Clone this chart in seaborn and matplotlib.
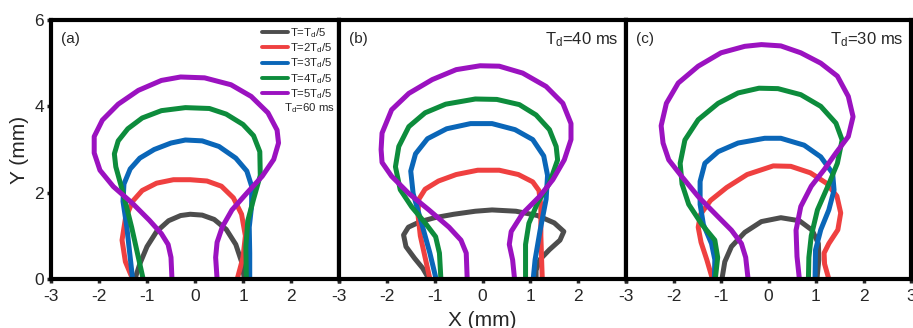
import numpy as np
import pandas as pd
import matplotlib
matplotlib.use("Agg")
import matplotlib.pyplot as plt
import seaborn as sns
from matplotlib.lines import Line2D

# Bubble contours (X, Y in mm) at five instants T = k*Td/5, for three Td values
stages = [r"T=T$_\mathrm{d}$/5", r"T=2T$_\mathrm{d}$/5", r"T=3T$_\mathrm{d}$/5",
          r"T=4T$_\mathrm{d}$/5", r"T=5T$_\mathrm{d}$/5"]
colors = ["#4d4d4d", "#ef4040", "#0a66b8", "#0d8c3c", "#9b12c0"]
panel_tags = ["(a)", "(b)", "(c)"]
td_labels = [r"T$_\mathrm{d}$=60 ms", r"T$_\mathrm{d}$=40 ms", r"T$_\mathrm{d}$=30 ms"]
x_ticks = [-3, -2, -1, 0, 1, 2, 3]
y_ticks = [0, 2, 4, 6]

# Td = 60 ms
a1 = [(-1.25, 0), (-1.15, 0.35), (-1.0, 0.75), (-0.8, 1.1), (-0.55, 1.35), (-0.3, 1.47),
      (-0.1, 1.5), (0.15, 1.48), (0.4, 1.38), (0.65, 1.15), (0.85, 0.8), (0.97, 0.4), (1.03, 0)]
a2 = [(-1.3, 0), (-1.45, 0.4), (-1.52, 0.9), (-1.45, 1.4), (-1.3, 1.8), (-1.1, 2.05),
      (-0.8, 2.22), (-0.45, 2.3), (-0.1, 2.3), (0.25, 2.27), (0.55, 2.15), (0.8, 1.88),
      (0.97, 1.5), (1.05, 1.0), (1.0, 0.5), (0.88, 0)]
a3 = [(-1.3, 0), (-1.36, 0.6), (-1.42, 1.2), (-1.5, 1.8), (-1.48, 2.2), (-1.35, 2.55),
      (-1.15, 2.8), (-0.85, 3.0), (-0.5, 3.15), (-0.2, 3.22), (0.15, 3.2), (0.5, 3.07),
      (0.85, 2.8), (1.08, 2.5), (1.18, 2.15), (1.18, 1.7), (1.13, 1.2), (1.14, 0.6), (1.14, 0)]
a4 = [(-1.08, 0), (-1.2, 0.6), (-1.32, 1.2), (-1.5, 2.0), (-1.65, 2.6), (-1.68, 2.9),
      (-1.6, 3.2), (-1.4, 3.48), (-1.1, 3.73), (-0.7, 3.9), (-0.2, 3.97), (0.3, 3.95),
      (0.65, 3.82), (1.0, 3.58), (1.22, 3.32), (1.35, 2.95), (1.36, 2.4), (1.22, 1.85),
      (1.1, 1.35), (1.06, 0.75), (1.07, 0)]
a5 = [(-0.48, 0), (-0.5, 0.5), (-0.56, 0.8), (-0.7, 1.05), (-0.95, 1.36), (-1.3, 1.75),
      (-1.7, 2.14), (-1.98, 2.52), (-2.1, 2.92), (-2.1, 3.3), (-1.93, 3.68), (-1.6, 4.05),
      (-1.18, 4.37), (-0.7, 4.6), (-0.3, 4.68), (0.2, 4.66), (0.75, 4.5), (1.17, 4.23),
      (1.52, 3.85), (1.71, 3.45), (1.74, 3.15), (1.64, 2.77), (1.4, 2.38), (1.08, 1.99),
      (0.77, 1.6), (0.57, 1.21), (0.46, 0.85), (0.43, 0.5), (0.46, 0)]

# Td = 40 ms
b1 = [(-1.12, 0), (-1.25, 0.25), (-1.42, 0.48), (-1.6, 0.75), (-1.65, 1.02), (-1.55, 1.2),
      (-1.3, 1.33), (-1.0, 1.42), (-0.6, 1.5), (-0.15, 1.57), (0.2, 1.6), (0.7, 1.57),
      (1.15, 1.47), (1.5, 1.3), (1.7, 1.1), (1.62, 0.9), (1.4, 0.68), (1.2, 0.45),
      (1.12, 0.2), (1.12, 0)]
b2 = [(-1.1, 0), (-1.2, 0.5), (-1.3, 1.0), (-1.35, 1.5), (-1.33, 1.85), (-1.2, 2.08),
      (-0.92, 2.27), (-0.55, 2.42), (-0.1, 2.52), (0.35, 2.52), (0.75, 2.42), (1.05, 2.25),
      (1.18, 2.05), (1.22, 1.7), (1.22, 1.0), (1.24, 0.3), (1.25, 0)]
b3 = [(-0.97, 0), (-1.1, 0.6), (-1.3, 1.4), (-1.45, 1.98), (-1.5, 2.5), (-1.4, 2.9),
      (-1.15, 3.25), (-0.75, 3.48), (-0.25, 3.6), (0.2, 3.6), (0.68, 3.46), (1.05, 3.23),
      (1.28, 2.85), (1.36, 2.4), (1.33, 1.85), (1.2, 1.1), (1.1, 0.45), (1.06, 0)]
b4 = [(-0.87, 0), (-0.9, 0.6), (-0.98, 0.98), (-1.2, 1.3), (-1.48, 1.67), (-1.72, 2.07),
      (-1.82, 2.6), (-1.75, 3.07), (-1.54, 3.53), (-1.2, 3.85), (-0.77, 4.05), (-0.15, 4.17),
      (0.3, 4.16), (0.77, 4.04), (1.12, 3.8), (1.4, 3.46), (1.54, 3.07), (1.57, 2.76),
      (1.4, 2.22), (1.15, 1.76), (0.97, 1.29), (0.9, 0.8), (0.9, 0)]
b5 = [(-0.32, 0), (-0.34, 0.6), (-0.45, 0.9), (-0.7, 1.2), (-1.12, 1.6), (-1.54, 1.98),
      (-1.9, 2.38), (-2.1, 2.7), (-2.12, 3.0), (-2.1, 3.38), (-1.9, 3.92), (-1.54, 4.3),
      (-1.05, 4.62), (-0.55, 4.85), (-0.05, 4.94), (0.35, 4.93), (0.84, 4.77), (1.33, 4.46),
      (1.68, 4.07), (1.85, 3.6), (1.85, 3.23), (1.71, 2.76), (1.47, 2.3), (1.19, 1.91),
      (0.84, 1.52), (0.6, 1.1), (0.56, 0.8), (0.63, 0.44), (0.67, 0)]

# Td = 30 ms
c1 = [(-0.98, 0), (-0.92, 0.4), (-0.78, 0.75), (-0.5, 1.08), (-0.15, 1.33), (0.26, 1.42),
      (0.65, 1.35), (0.92, 1.13), (1.05, 0.82), (1.06, 0.45), (1.02, 0)]
c2 = [(-1.18, 0), (-1.3, 0.45), (-1.42, 0.85), (-1.48, 1.2), (-1.43, 1.5), (-1.22, 1.82),
      (-0.88, 2.12), (-0.45, 2.42), (0.1, 2.62), (0.47, 2.61), (0.88, 2.46), (1.22, 2.22),
      (1.44, 1.92), (1.52, 1.53), (1.46, 1.14), (1.27, 0.82), (1.17, 0.6), (1.18, 0.35),
      (1.27, 0)]
c3 = [(-1.14, 0), (-1.13, 0.45), (-1.2, 0.82), (-1.37, 1.26), (-1.44, 1.73), (-1.44, 2.26),
      (-1.34, 2.68), (-1.06, 2.95), (-0.64, 3.15), (-0.08, 3.26), (0.26, 3.26), (0.75, 3.1),
      (1.1, 2.83), (1.35, 2.45), (1.38, 2.06), (1.27, 1.6), (1.1, 1.14), (0.99, 0.67),
      (0.98, 0)]
c4 = [(-1.12, 0), (-1.07, 0.5), (-1.13, 0.9), (-1.4, 1.26), (-1.68, 1.73), (-1.82, 2.2),
      (-1.86, 2.68), (-1.76, 3.22), (-1.48, 3.69), (-1.06, 4.07), (-0.64, 4.31), (-0.2, 4.42),
      (0.2, 4.41), (0.68, 4.27), (1.1, 4.0), (1.42, 3.61), (1.55, 3.22), (1.45, 2.68),
      (1.27, 2.2), (1.03, 1.6), (0.9, 1.0), (0.85, 0.5), (0.84, 0)]
c5 = [(-0.43, 0), (-0.48, 0.5), (-0.57, 0.82), (-0.78, 1.13), (-1.06, 1.44), (-1.48, 1.91),
      (-1.83, 2.38), (-2.1, 2.76), (-2.22, 3.15), (-2.26, 3.55), (-2.15, 4.07), (-1.9, 4.54),
      (-1.48, 4.93), (-1.0, 5.24), (-0.5, 5.39), (-0.15, 5.43), (0.26, 5.4), (0.68, 5.24),
      (1.1, 5.0), (1.45, 4.7), (1.68, 4.23), (1.78, 3.76), (1.68, 3.3), (1.42, 2.92),
      (1.17, 2.53), (0.9, 2.15), (0.68, 1.68), (0.58, 1.13), (0.6, 0.52), (0.65, 0)]

panels = [[a1, a2, a3, a4, a5], [b1, b2, b3, b4, b5], [c1, c2, c3, c4, c5]]

rows = []
for p, curves in enumerate(panels):
    for stage, pts in zip(stages, curves):
        for i, (x, y) in enumerate(pts):
            rows.append({"panel": p, "stage": stage, "i": i, "x": x, "y": y})
df = pd.DataFrame(rows)

sns.set_style("ticks")
plt.rcParams["font.family"] = ["Liberation Sans", "DejaVu Sans"]
plt.rcParams["mathtext.fontset"] = "custom"
plt.rcParams["mathtext.rm"] = "Liberation Sans"
plt.rcParams["mathtext.it"] = "Liberation Sans"

fig = plt.figure(figsize=(9.13, 3.28), dpi=100)
bottom, height = 49 / 328, 259 / 328
lefts = [51, 339, 626]
widths = [288, 287, 285]
palette = dict(zip(stages, colors))

axes = []
for p in range(3):
    ax = fig.add_axes([lefts[p] / 913, bottom, widths[p] / 913, height])
    axes.append(ax)
    sub = df[df["panel"] == p]
    sns.lineplot(data=sub, x="x", y="y", hue="stage", hue_order=stages, palette=palette,
                 sort=False, estimator=None, linewidth=3.6, legend=False, ax=ax,
                 solid_joinstyle="round", solid_capstyle="butt")
    ax.set_xlim(-3, 3)
    ax.set_ylim(0, 6)
    ax.set_xticks(x_ticks)
    labels = [str(t) for t in x_ticks]
    if p < 2:
        labels[-1] = ""
    ax.set_xticklabels(labels)
    ax.set_yticks(y_ticks)
    if p == 0:
        ax.set_yticklabels([str(t) for t in y_ticks])
        ax.tick_params(axis="y", length=3, width=2.5, labelsize=12.5, pad=2)
    else:
        ax.tick_params(axis="y", left=False, labelleft=False)
    ax.tick_params(axis="x", length=3, width=2.5, labelsize=12.5, pad=4)
    for s in ax.spines.values():
        s.set_linewidth(3)
        s.set_color("black")
    ax.set_xlabel("")
    ax.set_ylabel("")
    ax.text(0.035, 0.925, panel_tags[p], transform=ax.transAxes, fontsize=11,
            ha="left", va="center")
    if p > 0:
        ax.text(0.975, 0.925, td_labels[p], transform=ax.transAxes, fontsize=12,
                ha="right", va="center")

axes[0].set_ylabel("Y (mm)", fontsize=15, labelpad=4)
axes[1].set_xlabel("X (mm)", fontsize=15, labelpad=5)

handles = [Line2D([], [], color=c, lw=2.8) for c in colors]
leg = axes[0].legend(handles, stages, loc="upper right", bbox_to_anchor=(1.0, 1.0),
                     frameon=False, fontsize=8.2, handlelength=2.3, handletextpad=0.15,
                     labelspacing=0.12, borderaxespad=0.15)
axes[0].text(0.985, 0.66, td_labels[0], transform=axes[0].transAxes, fontsize=8.2,
             ha="right", va="center")

fig.savefig("out.png", dpi=100)
